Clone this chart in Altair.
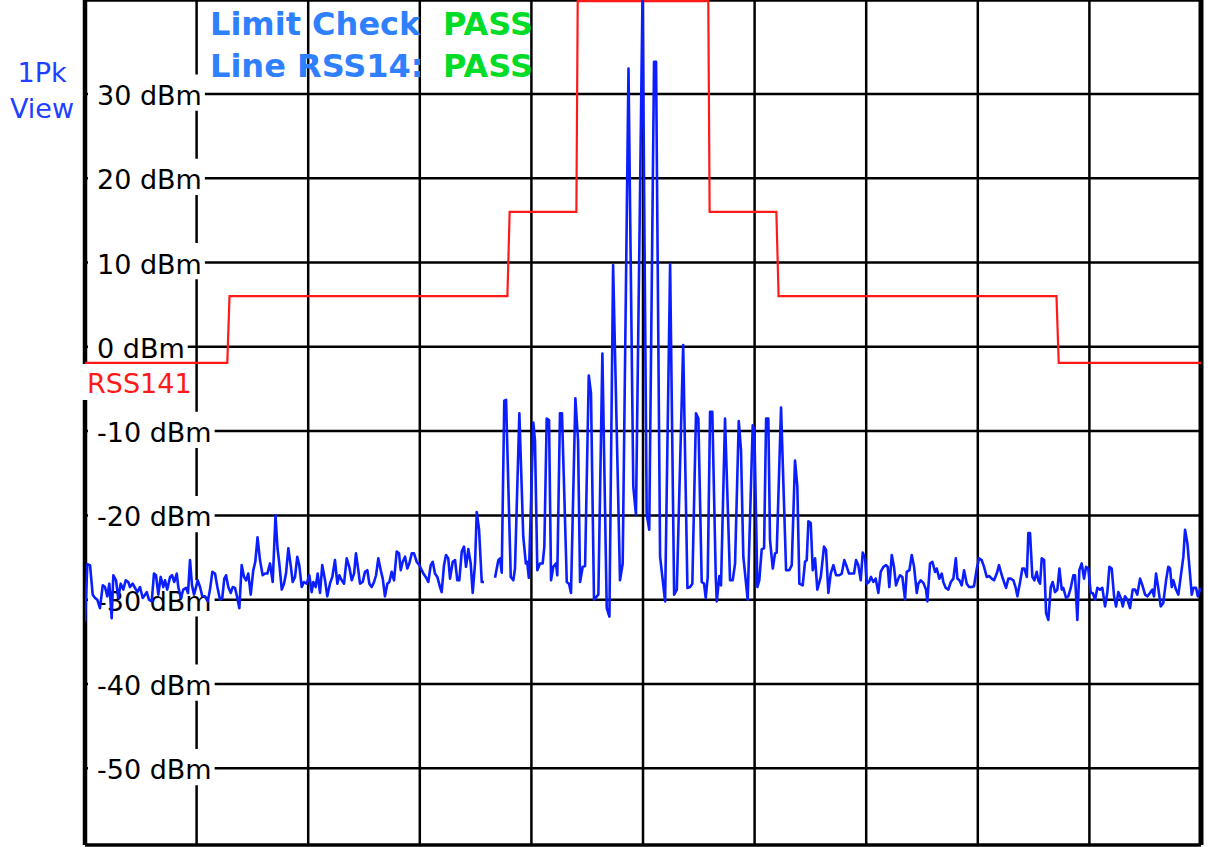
import altair as alt
import pandas as pd

# ---- spectrum trace (1Pk View): sweep point 0..1000, level in dBm ----
trace_pt = [
    0, 2.1, 4.5, 6.9, 9.0, 11.0, 13.4, 15.9, 17.9, 20.0, 21.8, 23.9, 25.4, 27.8, 29.8,
    32.0, 34.3, 36.5, 38.8, 40.3, 42.7, 44.8, 46.9, 49.3, 51.7, 53.8, 55.3, 57.3, 59.8,
    61.8, 63.6, 65.7, 67.8, 70.2, 71.7, 73.7, 76.2, 78.0, 80.0, 82.2, 83.6, 85.8, 88.1,
    90.5, 92.3, 94.1, 95.9, 97.7, 99.5, 101.0, 103.1, 105.1, 107.5, 110.0, 112.0, 114.1,
    116.5, 118.6, 121.0, 123.0, 124.8, 126.4, 128.4, 130.6, 132.4, 134.4, 136.5, 138.3,
    140.4, 142.5, 144.3, 146.3, 148.5, 150.8, 152.6, 154.6, 156.8, 159.2, 161.3, 163.4,
    165.8, 168.2, 170.7, 172.5, 174.1, 176.3, 178.3, 180.1, 182.2, 184.3, 186.1, 188.2,
    190.2, 192.0, 194.2, 196.2, 198.7, 201.0, 203.1, 204.6, 206.7, 208.5, 210.6, 212.6,
    215.1, 217.1, 219.5, 221.6, 224.0, 226.1, 227.9, 230.0, 232.1, 234.5, 236.8, 239.0,
    241.1, 242.8, 244.9, 246.4, 248.8, 250.9, 253.0, 254.8, 256.9, 259.0, 260.8, 262.8,
    265.0, 266.8, 268.8, 270.9, 272.7, 274.8, 276.9, 279.3, 281.4, 282.9, 284.7, 286.8,
    288.8, 290.6, 292.8, 294.8, 297.2, 299.6, 301.7, 303.2, 305.3, 307.6, 309.8, 311.6,
    313.6, 315.7, 318.1, 319.6, 321.7, 323.5, 325.5, 327.1, 329.5, 331.6, 333.6, 335.4,
    337.6, 339.6, 341.4, 343.5, 345.6, 347.4, 349.5, 351.0, 353.1, 355.5, 357.5,
    367.4, 370.4, 371.9, 373.4, 375.7, 377.3, 381.5, 383.8, 385.3, 389.2, 392.7, 395.0,
    396.2, 397.7, 401.7, 403.2, 405.3, 407.7, 410.1, 411.6, 413.7, 415.8, 417.6, 419.6,
    422.1, 423.2, 425.6, 427.4, 431.7, 433.7, 435.5, 439.4, 441.8, 443.6, 446.0, 448.1,
    451.4, 453.4, 456.1, 460.0, 463.6, 467.5, 469.9, 473.2, 479.4, 481.8, 487.0, 491.3,
    493.7, 499.6, 503.3, 505.6, 509.9, 511.7, 515.3, 519.8, 524.3, 527.9, 530.3, 536.0,
    539.8, 542.2, 544.2, 547.5, 549.6, 552.6, 554.7, 556.2, 558.0, 560.1, 562.1, 565.2,
    566.1, 568.4, 569.9, 573.5, 578.0, 580.4, 582.5, 585.8, 587.8, 589.9, 593.8, 598.3,
    599.8, 602.5, 604.2, 606.4, 608.5, 610.3, 612.3, 613.8, 616.3, 618.3, 619.8, 623.7,
    628.2, 631.1, 633.3, 636.2, 638.3, 640.1, 643.1, 645.2, 646.7, 648.2, 650.3, 652.1,
    654.2, 656.2, 659.3, 662.2, 664.0, 666.1, 668.2, 670.6, 673.0, 675.9, 678.1, 680.4,
    682.6, 684.6, 687.0, 689.1, 690.9, 692.9, 695.1, 696.9, 699.0, 700.5, 702.5, 704.3,
    706.4, 708.5, 710.9, 713.0, 715.4, 717.8, 719.3, 720.7, 722.9, 724.9, 726.7, 728.8,
    730.3, 732.4, 734.8, 736.3, 738.7, 740.8, 742.9, 745.3, 746.7, 748.9, 751.2, 753.6,
    754.8, 757.2, 759.3, 761.7, 763.2, 765.5, 767.7, 769.1, 771.3, 773.6, 775.8, 778.1,
    780.3, 781.7, 783.5, 785.6, 787.7, 790.1, 792.2, 794.6, 796.6, 799.1, 801.1, 803.5,
    805.6, 808.0, 810.3, 812.5, 814.5, 817.0, 819.0, 821.5, 823.5, 825.3, 827.4, 829.5,
    831.9, 834.0, 835.5, 837.9, 839.9, 841.7, 843.9, 845.3, 846.8, 848.9, 850.7, 852.8,
    854.2, 855.8, 857.3, 859.4, 861.2, 863.2, 865.4, 867.1, 869.2, 871.3, 873.1, 875.2,
    876.6, 879.1, 881.1, 883.3, 885.6, 887.1, 889.2, 891.0, 893.1, 895.2, 897.0, 899.0,
    901.2, 903.0, 905.1, 907.1, 909.5, 911.6, 914.0, 916.1, 917.9, 920.0, 922.1, 923.9,
    925.9, 928.1, 929.9, 931.9, 934.0, 936.4, 938.8, 940.9, 942.9, 945.4, 947.5, 949.9,
    951.9, 954.3, 956.4, 957.9, 959.7, 961.7, 963.9, 966.2, 968.7, 970.7, 972.3, 973.8,
    975.2, 977.6, 979.7, 981.8, 984.2, 985.7, 987.8, 989.6, 991.7, 993.2, 995.6, 997.1,
    999.1, 1000,
]
trace_dbm = [
    -32.6, -25.8, -25.9, -29.4, -29.8, -30.0, -31.0, -28.3, -28.5, -29.6, -28.1, -32.2, -27.1, -27.7, -29.8,
    -28.1, -28.8, -27.7, -27.9, -28.5, -28.1, -28.6, -29.1, -28.5, -29.8, -29.4, -29.1, -30.0, -30.2,
    -26.9, -27.1, -29.4, -27.3, -28.5, -27.7, -28.8, -27.3, -27.1, -27.9, -26.9, -28.5, -29.8, -28.8,
    -28.6, -29.2, -25.3, -28.3, -29.4, -28.5, -27.7, -28.5, -29.6, -29.6, -30.2, -28.8, -26.7,
    -26.9, -28.5, -30.0, -29.8, -27.5, -27.1, -28.5, -29.2, -28.5, -28.6, -29.8, -31.0,
    -25.9, -27.3, -27.7, -26.9, -29.4, -26.5, -25.5, -22.6, -25.3, -27.1, -26.9, -26.9,
    -25.7, -27.9, -20.0, -23.9, -25.7, -28.8, -28.1, -26.9, -23.9, -25.9, -27.9, -27.3,
    -24.9, -25.9, -28.5, -27.9, -28.1, -27.1, -29.1, -27.9, -28.5, -26.9, -29.2, -25.9,
    -27.7, -29.6, -28.1, -27.3, -25.3, -28.1, -27.1, -27.7, -28.1, -25.1, -26.1, -27.7,
    -26.9, -24.5, -26.5, -28.1, -27.9, -26.7, -26.5, -28.1, -28.5, -27.9, -27.1, -25.1,
    -26.5, -27.5, -29.6, -28.1, -27.9, -26.7, -27.7, -24.3, -24.5, -26.5, -25.5, -24.9,
    -26.3, -25.7, -24.5, -24.5, -25.5, -25.9, -26.5, -26.9, -27.3, -27.9, -25.9, -25.5,
    -26.9, -27.3, -28.5, -29.1, -25.9, -24.7, -25.1, -27.5, -25.5, -25.3, -27.7, -27.7,
    -24.3, -23.7, -26.1, -24.0, -25.7, -29.2, -25.7, -19.6, -21.7, -27.9, -27.9,
    -27.4, -25.3, -25.1, -26.8, -6.4, -6.3, -27.3, -27.7, -26.3, -7.9, -22.5, -25.7,
    -25.5, -27.4, -9.0, -11.1, -26.5, -25.7, -25.7, -23.7, -8.5, -8.7, -27.7, -26.1,
    -25.7, -27.1, -7.9, -7.9, -27.9, -28.1, -29.2, -6.1, -11.1, -27.9, -26.1, -26.0,
    -3.4, -5.5, -30.0, -29.4, -0.8, -31.0, -32.0, 9.7, -27.7, -25.7, 33.0, -16.6,
    -19.9, 42.0, -19.8, -21.7, 33.8, 33.8, -24.9, -30.2, 9.8, -29.4, -28.8, 0.2,
    -28.6, -28.5, -28.1, -7.9, -8.5, -27.9, -28.1, -29.8, -27.3, -7.7, -7.7, -27.3,
    -30.2, -27.2, -28.3, -8.5, -27.7, -27.7, -25.7, -8.8, -12.2, -24.9, -30.0, -9.3,
    -9.9, -28.5, -27.7, -24.0, -23.9, -8.5, -8.5, -22.9, -26.3, -24.5, -24.4, -7.2,
    -26.5, -26.5, -25.9, -13.5, -16.6, -28.1, -28.3, -25.5, -25.3, -20.7, -20.9, -26.5,
    -25.1, -28.8, -27.3, -23.7, -24.1, -29.2, -26.9, -25.9, -27.1, -27.1, -26.9, -25.3,
    -26.1, -26.9, -26.9, -26.9, -25.3, -25.9, -27.7, -24.4, -25.1, -28.1, -27.9, -27.3,
    -27.9, -27.5, -29.2, -26.7, -26.1, -25.9, -26.1, -28.5, -24.7, -26.1, -28.3, -27.5,
    -27.1, -27.3, -30.0, -26.7, -26.5, -24.7, -26.1, -29.2, -28.1, -27.7, -28.0, -28.8,
    -30.2, -25.7, -25.5, -26.7, -26.3, -27.5, -26.9, -27.9, -28.6, -28.8, -27.9, -27.5,
    -25.1, -27.5, -27.7, -28.3, -26.5, -28.1, -28.5, -28.5, -28.4, -26.3, -25.1, -25.3,
    -26.1, -27.3, -27.2, -27.5, -27.7, -26.9, -25.9, -27.1, -27.9, -28.6, -27.5, -27.5,
    -27.7, -28.6, -29.6, -27.9, -26.3, -26.3, -27.3, -22.1, -22.1, -27.3, -27.7, -26.7,
    -27.7, -28.1, -25.1, -25.3, -31.6, -32.4, -28.5, -27.9, -29.1, -28.8, -26.3, -28.8,
    -28.6, -29.8, -29.6, -28.6, -27.1, -27.1, -32.4, -26.5, -25.7, -27.5, -26.1, -26.3,
    -29.2, -29.2, -30.0, -28.6, -28.8, -28.6, -30.8, -29.1, -26.1, -26.3, -29.6, -30.8,
    -29.1, -29.8, -30.8, -29.6, -30.0, -31.0, -28.8, -28.8, -29.4, -27.5, -28.3, -29.4,
    -29.6, -29.2, -28.8, -29.6, -26.9, -28.6, -30.8, -30.4, -27.7, -26.1, -26.3, -28.5,
    -27.7, -28.8, -29.4, -27.3, -24.9, -21.7, -23.3, -26.1, -29.4, -28.6, -28.6, -29.6,
    -28.8, -28.6,
]
# the sweep has no data between these two points
trace_break_pt = 362.0

# ---- limit line RSS141 ----
limit_pt = [0, 127.5, 129.5, 378.5, 380.5, 440.3, 441.5, 558.5, 559.7, 619.5, 621.5, 870.5, 872.5, 1000]
limit_dbm = [-1.9, -1.9, 6.0, 6.0, 16.0, 16.0, 41.0, 41.0, 16.0, 16.0, 6.0, 6.0, -1.9, -1.9]

# ---- grid / level labels ----
level_ticks = [30, 20, 10, 0, -10, -20, -30, -40, -50]
freq_grid = [100, 200, 300, 400, 500, 600, 700, 800, 900]

FONT = "DejaVu Sans"
W, H = 1116, 845
X_DOM = [0, 1000]
Y_DOM = [-59.1, 41.14]
PX_PER_PT = W / (X_DOM[1] - X_DOM[0])
LABEL_SIZE = 27

xs = alt.Scale(domain=X_DOM, nice=False, zero=False)
ys = alt.Scale(domain=Y_DOM, nice=False, zero=False)

# approximate glyph advance widths (em) for the level labels
ADV = {"-": 0.361, " ": 0.318, "d": 0.635, "B": 0.686, "m": 0.974}


def text_px(s):
    return sum(ADV.get(c, 0.636) for c in s) * LABEL_SIZE


lab_rows = []
for v in level_ticks:
    s = f"{v} dBm"
    lab_rows.append({
        "v": v, "label": s,
        "x0": 3 / PX_PER_PT, "x1": (12 + text_px(s) + 3) / PX_PER_PT,
        "y0": v + 2.3, "y1": v - 2.0,
    })
labels_df = pd.DataFrame(lab_rows)

trace_df = pd.DataFrame({"pt": trace_pt, "dbm": trace_dbm})
trace_df["seg"] = (trace_df["pt"] > trace_break_pt).astype(int)
limit_df = pd.DataFrame({"pt": limit_pt, "dbm": limit_dbm})

vgrid = alt.Chart(pd.DataFrame({"pt": freq_grid})).mark_rule(
    color="black", strokeWidth=2.5
).encode(x=alt.X("pt:Q", scale=xs, axis=None))

hgrid = alt.Chart(pd.DataFrame({"v": level_ticks})).mark_rule(
    color="black", strokeWidth=2.5
).encode(y=alt.Y("v:Q", scale=ys, axis=None))

frame_v = alt.Chart(pd.DataFrame({"pt": [0, 1000], "w": [4.5, 5.0]})).mark_rule(
    color="black"
).encode(x=alt.X("pt:Q", scale=xs, axis=None), strokeWidth=alt.StrokeWidth("w:Q", scale=None))

frame_h = alt.Chart(pd.DataFrame({"v": Y_DOM})).mark_rule(
    color="black", strokeWidth=3.5
).encode(y=alt.Y("v:Q", scale=ys, axis=None))

label_boxes = alt.Chart(labels_df).mark_rect(color="white").encode(
    x=alt.X("x0:Q", scale=xs, axis=None), x2="x1:Q",
    y=alt.Y("y0:Q", scale=ys, axis=None), y2="y1:Q",
)

label_text = alt.Chart(labels_df).mark_text(
    font=FONT, fontSize=LABEL_SIZE, color="black", align="left", baseline="alphabetic", dy=11
).encode(x=alt.value(12), y=alt.Y("v:Q", scale=ys, axis=None), text="label:N")

limit_name = pd.DataFrame({"name": ["RSS141"]})
limit_box = alt.Chart(limit_name).mark_rect(color="white").encode(
    x=alt.value(-3), x2=alt.value(108), y=alt.value(364), y2=alt.value(400)
)
limit_text = alt.Chart(limit_name).mark_text(
    font=FONT, fontSize=LABEL_SIZE, color="#ff1a1a", align="left", baseline="alphabetic"
).encode(x=alt.value(2), y=alt.value(393), text="name:N")

limit_line = alt.Chart(limit_df).mark_line(color="#ff1a1a", strokeWidth=2.2).encode(
    x=alt.X("pt:Q", scale=xs, axis=None), y=alt.Y("dbm:Q", scale=ys, axis=None),
    order="pt:Q",
)

trace_line = alt.Chart(trace_df).mark_line(
    color="#0a1eff", strokeWidth=2.6, clip=True, strokeJoin="round"
).encode(
    x=alt.X("pt:Q", scale=xs, axis=None), y=alt.Y("dbm:Q", scale=ys, axis=None),
    detail="seg:N", order="pt:Q",
)

trace_tag = alt.Chart(pd.DataFrame({"t": ["1Pk", "View"], "yy": [82, 118]})).mark_text(
    font=FONT, fontSize=27, color="#2040ff", align="center", baseline="alphabetic"
).encode(x=alt.value(-43), y=alt.Y("yy:Q", scale=None), text="t:N")

banner_df = pd.DataFrame({
    "t": ["Limit Check", "PASS", "Line RSS14:", "PASS"],
    "xx": [125, 358, 125, 358],
    "yy": [35, 35, 77, 77],
    "c": ["#2f80ff", "#00dc28", "#2f80ff", "#00dc28"],
})
banner = alt.Chart(banner_df).mark_text(
    font=FONT, fontSize=32, fontWeight="bold", align="left", baseline="alphabetic"
).encode(
    x=alt.X("xx:Q", scale=None), y=alt.Y("yy:Q", scale=None), text="t:N",
    color=alt.Color("c:N", scale=None),
)

chart = alt.layer(
    vgrid, hgrid, frame_v, frame_h, label_boxes, label_text,
    limit_box, limit_text, limit_line, trace_line, trace_tag, banner,
).properties(
    width=W, height=H,
    padding={"left": 85, "top": 0, "right": 7, "bottom": 2},
    autosize=alt.AutoSizeParams(type="none"),
    background="white",
).configure_view(stroke=None)

chart.save("out.html", embed_options={"renderer": "svg", "actions": False})
